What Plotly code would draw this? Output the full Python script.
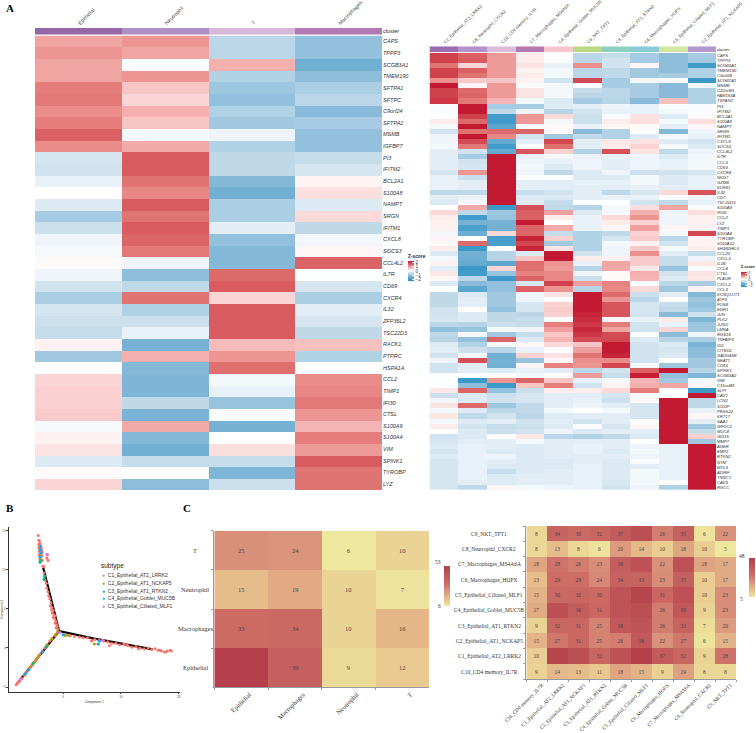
#!/usr/bin/env python
"""
Multi panel figure: z-score heatmaps, pseudotime trajectory and interaction count heatmaps
"""

import plotly.graph_objs as go

W = 756
H = 733

# panel A, left heatmap
left_cols = ["Epithelial", "Neutrophil", "T", "Macrophages"]
left_col_colors = ["#9568AA", "#AE90C4", "#D8B8D8", "#B27AB2"]
left_genes = ["CAPS", "TPPP3", "SCGB3A1", "TMEM190", "SFTPA1", "SFTPC", "C9orf24", "SFTPA2", "MSMB", "IGFBP7",
              "PI3", "IFITM2", "BCL2A1", "S100A8", "NAMPT", "SRGN", "IFITM1", "CXCL8", "SOCS3", "CCL4L2",
              "IL7R", "CD69", "CXCR4", "IL32", "ZFP36L2", "TSC22D3", "RACK1", "PTPRC", "HSPA1A",
              "CCL2", "TIMP1", "IFI30", "CTSL", "S100A9", "S100A4", "VIM", "SPINK1", "TYROBP", "LYZ"]
left_z = [
    [0.9, 1.05, -0.6, -1.0], [1.05, 0.9, -0.6, -1.0], [0.9, -0.02, 0.8, -1.35], [0.9, 1.05, -0.7, -1.05],
    [1.3, 0.6, -0.9, -0.75], [1.35, 0.45, -1.0, -0.6], [1.15, 0.8, -0.7, -1.1], [1.3, 0.6, -0.85, -0.8],
    [1.6, -0.08, -0.15, -1.0], [1.15, 0.85, -0.7, -1.0], [-0.35, 1.65, -0.55, -0.5], [-0.4, 1.65, -0.55, -0.35],
    [-0.2, 1.4, -1.15, 0.12], [0.0, 1.2, -1.35, 0.35], [-0.3, 1.65, -0.75, -0.3], [-0.8, 1.4, -0.75, 0.4],
    [-0.45, 1.65, -0.25, -0.55], [-0.15, 1.55, -1.0, -0.12], [-0.08, 1.35, -1.15, 0.1], [0.05, -0.15, -1.15, 1.55],
    [-0.15, -1.05, 1.5, -0.02], [-0.4, -0.55, 1.65, -0.35], [-0.75, 1.4, 0.45, -0.75], [-0.35, -0.7, 1.65, -0.25],
    [-0.45, -0.45, 1.65, -0.35], [-0.5, -0.2, 1.65, -0.55], [0.15, -1.3, 0.7, 0.65], [-0.85, 0.8, 1.05, -0.7],
    [0.0, -1.15, 1.45, 0.0], [0.45, -1.2, -0.1, 1.15], [0.5, -1.2, -0.2, 1.2], [0.5, -0.55, -0.95, 1.35],
    [0.55, -1.25, -0.05, 1.05], [-0.07, 0.85, -1.3, 0.75], [0.15, -1.15, 0.0, 1.3], [0.3, -1.35, 0.35, 1.0],
    [-0.3, -0.5, -0.5, 1.65], [0.05, -0.02, -1.2, 1.4], [0.45, -1.05, -0.45, 1.4],
]

# panel A, right heatmap
right_cols = ["C1_Epithelial_AT2_LRRK2", "C8_Neutrophil_CXCR2", "C10_CD4 memory_IL7R", "C7_Macrophages_MS4A6A",
              "C4_Epithelial_Goblet_MUC5B", "C9_NKT_TPT1", "C3_Epithelial_AT1_RTKN2", "C6_Macrophages_HOPX",
              "C5_Epithelial_Ciliated_MLF1", "C2_Epithelial_AT1_NCKAP5"]
right_col_colors = ["#9C6BAF", "#B491C8", "#DCBEDC", "#B57BB0", "#F7C6CC",
                    "#B9D883", "#8ED0C2", "#8ACDD6", "#D2E5A1", "#B498CB"]
right_genes = ["CAPS", "TPPP3", "SCGB3A1", "TMEM190", "C9orf24", "SCGB1A1", "MSMB", "C20orf85", "FAM183A", "TSPAN1",
               "PI3", "IFITM2", "BCL2A1", "S100A8", "NAMPT", "SRGN", "IFITM1", "CXCL8", "SOCS3", "CCL4L2",
               "IL7R", "CCL5", "CD69", "CXCR4", "NKG7", "GZMB", "KLRB1", "IL32", "CD7", "TSC22D3",
               "S100A9", "IFI30", "CCL2", "LYZ", "TIMP1", "S100A4", "TYROBP", "S100A12", "SH3BGRL3", "CCL20",
               "CXCL3", "IL1B", "CCL4", "CTSL", "PLAUR", "CXCL2", "CCL3", "KCNQ1OT1", "ATF3", "FOSB",
               "EGR1", "JUN", "PLK2", "JUND", "LMNA", "RGS16", "TNFAIP3", "ID2", "CITED2", "GADD45B",
               "NEAT1", "CD83", "SPINK1", "SCGB3A2", "VIM", "C15orf48", "SLPI", "CAV1", "LCN2", "S100P",
               "PRSS22", "KRT17", "SAA1", "WFDC2", "MUC4", "ISG15", "MMP7", "AGER", "EMP2", "RTKN2",
               "NTM", "MYL9", "ADIRF", "TNNC1", "CAV3", "RGCC"]
right_z = [
    [1.9, 1.6, 1.0, 0.2, 0.02, -0.6, -0.5, -0.8, -1.05, -0.8],
    [1.9, 1.65, 1.0, 0.2, -0.05, -0.6, -0.4, -0.8, -1.05, -0.85],
    [1.4, 0.45, 1.0, 0.3, -0.2, 1.1, -0.4, 0.1, -1.05, -1.9],
    [1.9, 1.6, 1.0, 0.15, -0.1, -0.6, -0.55, -0.85, -1.05, -0.7],
    [1.9, 1.4, 1.0, 0.2, -0.1, -0.6, -0.55, -0.85, -0.8, -0.7],
    [1.1, 0.55, 0.6, 0.15, -0.4, 1.85, -0.8, -0.1, -0.05, -1.95],
    [2.3, 0.1, 1.0, -0.05, -0.1, -0.05, -0.8, -0.8, -1.1, -0.1],
    [1.9, 1.5, 1.0, 0.3, -0.1, -0.5, -0.6, -0.8, -1.1, -0.7],
    [1.9, 1.55, 1.0, 0.3, -0.1, -0.6, -0.6, -0.8, -1.1, -0.7],
    [2.0, 1.35, 0.75, -0.1, -0.3, -0.8, -0.65, -1.1, 0.65, -0.7],
    [-0.05, 2.3, -0.8, -0.8, -0.3, -0.25, -0.15, -0.2, -0.05, -0.05],
    [-0.05, 2.3, -0.55, -0.15, -0.65, -0.4, -0.2, -0.2, -0.1, -0.05],
    [0.0, 1.9, -1.9, 1.05, 0.4, -0.45, -0.05, 0.3, -0.3, 0.05],
    [0.2, 1.5, -1.9, 1.0, -0.1, -0.45, 0.2, 0.35, -0.1, 0.35],
    [-0.1, 2.3, -1.6, -0.1, 0.05, -0.2, 0.1, 0.05, -0.25, 0.1],
    [-0.4, 1.4, 1.5, 1.55, 0.1, -1.1, -0.7, 0.02, -1.15, -0.15],
    [-0.15, 2.3, 1.2, -0.4, -0.85, -0.55, -0.7, -0.3, -0.1, -0.2],
    [-0.15, 1.8, -1.5, -0.25, 1.85, -0.25, 0.25, 0.3, -0.3, -0.4],
    [-0.1, 1.35, -1.9, -0.05, 1.45, -0.25, 0.2, 0.45, -0.1, -0.3],
    [-0.25, -0.4, -1.5, 1.7, 0.5, -0.7, 1.75, 0.3, -0.55, -0.15],
    [-0.25, -0.8, 2.3, -0.2, -0.1, -0.2, -0.2, -0.15, -0.3, -0.12],
    [-0.25, -0.4, 2.3, -0.15, -0.2, -0.15, -0.25, -0.15, -0.2, -0.1],
    [-0.25, -0.35, 2.3, -0.12, -0.3, -0.15, -0.25, -0.15, -0.2, -0.1],
    [-0.35, 1.05, 2.3, -0.15, -0.55, -0.3, -0.15, -0.45, -0.4, -0.35],
    [-0.2, -0.45, 2.3, -0.05, -0.02, -0.3, -0.3, -0.1, -0.3, -0.2],
    [-0.2, -0.25, 2.3, -0.25, -0.25, -0.2, -0.2, -0.1, -0.3, -0.2],
    [-0.2, -0.25, 2.3, -0.25, -0.25, -0.25, -0.25, -0.2, -0.25, -0.2],
    [-0.55, -0.55, 2.3, -0.5, -0.4, -0.25, -0.55, -0.35, 0.4, 1.7],
    [-0.25, -0.2, 2.3, -0.3, -0.3, -0.25, -0.2, -0.2, -0.05, -0.15],
    [-0.3, -0.05, 2.3, -0.25, -0.5, -0.02, -0.02, -0.4, -0.55, -0.2],
    [0.0, 0.85, -1.95, 1.75, -0.55, -0.65, -0.1, 0.35, 0.9, -0.05],
    [0.4, -0.55, -0.9, 1.6, 0.95, -0.3, -0.1, 0.8, -0.15, 0.35],
    [0.2, -1.9, -0.95, 1.6, 0.2, -0.2, 0.4, 1.05, -0.15, 0.15],
    [0.15, -1.3, -1.3, 2.3, 0.0, -0.2, 0.2, 0.5, -0.15, 0.15],
    [0.15, -1.8, -1.3, 1.55, 0.85, -0.2, 0.1, 0.95, 0.1, 0.15],
    [-0.1, -1.4, 0.4, 1.5, -0.5, -0.7, -0.55, 0.5, -0.1, 1.85],
    [0.1, 0.0, -1.85, 2.2, 0.5, -0.7, -0.35, 0.55, -0.6, 0.1],
    [0.05, 1.5, -1.8, 1.85, -0.85, -0.7, -0.1, 0.15, -0.4, 0.15],
    [0.2, -1.95, 0.0, 2.2, 0.3, -0.7, -0.15, 0.55, -0.1, 0.2],
    [-0.3, -1.35, -0.65, -0.3, 2.3, -0.4, -0.15, 1.1, -0.25, -0.5],
    [-0.1, -1.4, -0.65, 0.6, 2.3, 0.2, 0.15, 0.55, -0.5, -0.15],
    [0.15, -1.5, -1.6, 1.45, 1.05, -0.2, 0.9, 0.55, -0.5, 0.25],
    [-0.25, -1.95, 0.45, 1.45, 1.0, -0.65, 0.85, 0.25, -0.95, -0.05],
    [0.25, -1.9, -0.95, 1.25, 1.2, -0.15, 0.05, 0.8, -0.4, 0.3],
    [0.1, -0.6, -1.95, 1.55, 1.2, -0.45, 0.05, 0.75, -0.3, 0.25],
    [-0.3, -1.1, -1.0, -0.35, 1.9, 0.95, 1.25, 0.0, -0.6, -0.8],
    [0.0, -1.6, -1.0, 1.6, 1.05, -0.65, 1.2, 0.4, -0.85, 0.15],
    [-0.55, -0.3, -0.85, -0.15, 0.3, 2.3, 1.5, -0.45, -0.25, -1.15],
    [-0.55, -0.25, -0.85, -0.15, 0.0, 2.3, 1.05, -0.6, 0.0, -0.9],
    [-0.55, -0.25, -0.85, -0.35, 0.5, 2.3, 1.7, -0.35, -0.5, -1.0],
    [-0.4, 0.03, -1.0, -0.35, 0.55, 2.3, 1.7, -0.35, -0.55, -0.9],
    [-0.4, -0.3, -0.55, -0.6, 0.5, 2.2, 1.7, -0.4, -1.1, -0.4],
    [-0.35, -0.3, -0.55, -0.5, 0.0, 2.1, 0.1, -0.2, 0.2, -1.2],
    [-0.6, -0.65, -0.45, -0.5, 1.3, 2.0, 1.3, -0.4, -0.2, -0.9],
    [-1.0, -0.95, -0.1, -0.15, 0.95, 2.15, 0.9, -0.4, 0.45, -0.9],
    [-0.55, -0.1, -0.85, -0.5, 0.6, 2.0, 1.8, -0.02, -1.05, -0.15],
    [-0.65, -1.0, 1.55, -0.3, 0.75, 1.8, 1.85, -0.3, -0.65, -0.75],
    [-0.3, -0.7, -0.1, 0.1, 0.4, 0.6, 2.3, -0.4, -0.3, -1.25],
    [-0.25, -0.45, -0.6, -0.2, 0.0, 0.95, 2.3, -0.4, -0.35, -1.05],
    [-0.4, -0.1, -1.35, 0.5, 0.3, 1.4, 2.2, -0.4, -0.3, -1.05],
    [-0.15, 1.75, -1.3, -0.95, 0.1, 1.1, 1.15, -0.4, -0.02, -0.85],
    [-0.4, -0.25, -1.35, 0.1, 1.25, 1.05, 1.85, -0.1, -0.9, -0.85],
    [-0.4, -0.25, -0.3, -0.2, -0.25, -0.6, -0.4, 1.6, 2.3, -0.65],
    [-0.02, -0.03, -0.03, -0.1, 0.0, 1.0, -0.5, 2.25, -1.0, -1.2],
    [-0.02, -1.95, 1.05, 1.55, 0.6, -0.2, -0.1, 0.75, -0.85, -0.1],
    [0.0, -1.05, -1.95, 0.6, 1.3, -0.4, 0.15, 0.8, 0.9, 0.08],
    [0.25, 1.55, -1.0, -0.45, 0.2, 0.2, 0.4, 1.3, 0.0, -1.95],
    [-0.45, -0.3, -0.45, -0.35, -0.25, -0.25, -0.35, -0.02, -0.02, 2.3],
    [-0.12, -0.3, -0.4, -0.35, -0.25, -0.2, -0.45, 0.05, 2.3, -0.55],
    [0.3, 1.5, -0.9, -0.55, -0.25, -0.15, -0.25, -0.35, 2.3, -0.55],
    [-0.1, -0.3, -0.6, -0.55, -0.1, 0.0, -0.1, -0.35, 2.3, -0.2],
    [0.25, -0.55, -0.4, -0.6, -0.3, -0.25, -0.25, -0.35, 2.3, 0.1],
    [-0.1, -0.3, -0.25, -0.4, -0.25, -0.4, -0.25, -0.05, 2.3, -0.25],
    [0.2, -0.4, -0.5, -0.45, -0.3, -0.05, -0.35, 0.1, 2.3, -0.85],
    [0.0, -0.3, -0.45, -0.4, -0.15, -0.3, -0.25, -0.25, 2.3, -0.5],
    [-0.4, -0.3, 0.0, 0.25, -0.6, -0.7, -0.55, -0.3, 2.3, 0.5],
    [-0.35, -0.25, -0.25, -0.1, -0.25, -0.25, -0.25, 0.0, 2.3, -0.85],
    [-0.3, -0.2, -0.25, -0.3, -0.25, -0.2, -0.25, -0.15, -0.2, 2.3],
    [-0.35, -0.2, -0.3, -0.3, -0.25, -0.2, -0.3, -0.1, -0.2, 2.3],
    [-0.3, -0.2, -0.15, -0.3, -0.25, -0.25, -0.25, -0.15, -0.2, 2.3],
    [-0.35, -0.2, -0.25, -0.3, -0.3, -0.25, -0.3, -0.05, -0.2, 2.3],
    [-0.35, -0.2, -0.3, -0.3, -0.3, -0.2, -0.3, -0.25, -0.2, 2.3],
    [-0.35, -0.2, -0.5, -0.3, -0.25, -0.2, -0.3, -0.1, -0.2, 2.3],
    [-0.35, -0.2, -0.3, -0.25, -0.25, -0.2, -0.3, -0.1, -0.2, 2.3],
    [-0.35, -0.25, -0.3, -0.25, -0.25, -0.2, -0.35, -0.1, -0.05, 2.3],
    [-0.35, -0.55, 0.1, -0.1, -0.15, -0.2, -0.4, -0.15, -0.7, 2.3],
]

# panel B, trajectory branches and cells per subtype
branch_x = [-3.44, -0.69, 5.17, 15.5, None, -0.69, -3.44, -5.7, -8.04]
branch_y = [10.3, 2.18, 1.24, -0.17, None, 2.18, -0.38, -2.5, -4.66]
subtypes = ["C1_Epithelial_AT2_LRRK2", "C2_Epithelial_AT1_NCKAP5", "C3_Epithelial_AT1_RTKN2",
            "C4_Epithelial_Goblet_MUC5B", "C5_Epithelial_Ciliated_MLF1"]
subtype_colors = ["#F8766D", "#A3A500", "#00BF7D", "#00B0F6", "#E76BF3"]
c1_x = [-4.3, -4.2, -4.1, -4.0, -4.2, -3.9, -4.1, -3.8, -4.2, -4.0, -3.7, -4.1, -3.9, -3.6, -4.0, -3.8, -4.1, -3.7,
        -3.9, -4.0, -3.8, -3.6, -3.9, -2.7, -2.8, -2.6, -3.5, -3.3, -3.3, -3.2, -3.1, -2.9, -2.8, -2.6, -2.5, -2.3,
        -2.1, -2.2, -1.9, -2.0, -1.7, -1.9, -1.6, -1.4, -1.7, -1.4, -1.2, -1.4, -1.1, -1.0, -1.2, -0.9, -1.0, -1.4,
        -1.9, -2.3, -2.8, -3.2, -3.6, -4.0, -4.3, -4.7, -5.0, -5.3, -5.7, -6.0, -6.3, -6.7, -7.1, -7.5, -7.9, -8.1,
        -7.7, -5.5, -4.5, -5.9, -4.8, 0.5, 1.2, 2.0, 2.8, 3.5, 4.2, 4.9, 5.5, 6.2, 7.0, 7.7, 8.4, 9.1, 9.8, 10.5,
        11.2, 11.9, 12.6, 13.3, 14.0, 14.7, 15.3, 15.9, 16.4, 17.0, 17.5, 18.0, 18.5, 18.7, 17.8, 16.7, 13.0, 6.0,
        5.0, 8.0, 11.0]
c1_y = [14.4, 13.8, 13.7, 13.4, 13.3, 13.1, 13.0, 12.9, 12.8, 12.7, 12.6, 12.4, 12.3, 12.3, 12.1, 12.0, 11.9, 11.8,
        11.6, 11.4, 11.3, 11.2, 11.1, 11.9, 11.5, 11.2, 10.5, 10.4, 9.6, 9.2, 8.7, 8.3, 7.7, 7.2, 6.7, 6.3,
        5.8, 5.4, 5.2, 4.9, 4.8, 4.5, 4.3, 4.1, 3.9, 3.7, 3.4, 3.2, 3.0, 2.8, 2.6, 2.4, 2.0, 1.6,
        1.2, 0.9, 0.4, 0.0, -0.4, -0.8, -1.1, -1.5, -1.8, -2.1, -2.5, -2.8, -3.1, -3.5, -3.9, -4.2, -4.5, -4.7,
        -4.4, -2.3, -1.3, -2.6, -1.7, 1.7, 1.6, 1.5, 1.4, 1.3, 1.3, 0.9, 1.1, 1.0, 0.9, 0.8, 0.6, 0.6, 0.4, 0.5,
        0.3, 0.1, 0.2, 0.0, -0.1, 0.0, -0.2, -0.1, -0.3, -0.4, -0.5, -0.4, -0.3, -0.4, -0.5, -0.3, -0.1, 0.5,
        1.0, 0.3, 0.5]
c2_x = [0.3, 0.9, -0.9, -2.7, -4.2, -4.6, -5.1, -5.6, -6.7, -2.0, -1.3, 5.4]
c2_y = [1.6, 1.6, 2.1, 0.4, -1.0, -1.4, -1.9, -2.4, -3.4, 1.1, 1.7, 0.5]
c3_x = [-4.0, -3.9, -3.2, -3.3, -5.2, -2.9]
c3_y = [11.0, 11.2, 9.2, 8.8, -2.0, 0.2]
c4_x = [-3.9, -4.0, -3.8, -4.0, 0.0, 6.1, -5.9, -3.6, -6.5, 6.3]
c4_y = [13.0, 12.6, 12.2, 11.7, 1.7, 0.5, -2.8, -0.5, -3.3, 0.9]
c5_x = [-2.8, -7.4, 6.8, -0.5]
c5_y = [12.0, -4.0, 1.0, 2.0]

# panel C, interaction counts
count_cols = ["Epithelial", "Macrophages", "Neutrophil", "T"]
count_rows = ["Epithelial", "Macrophages", "Neutrophil", "T"]
count_z = [
    [53, 39, 9, 12],
    [33, 34, 10, 16],
    [15, 19, 10, 7],
    [25, 24, 6, 10],
]
cluster_cols = ["C10_CD4 memory_IL7R", "C1_Epithelial_AT2_LRRK2", "C2_Epithelial_AT1_NCKAP5",
                "C3_Epithelial_AT1_RTKN2", "C4_Epithelial_Goblet_MUC5B", "C5_Epithelial_Ciliated_MLF1",
                "C6_Macrophages_HOPX", "C7_Macrophages_MS4A6A", "C8_Neutrophil_CXCR2", "C9_NKT_TPT1"]
cluster_z = [
    [9, 14, 13, 11, 18, 15, 9, 19, 8, 8],
    [10, 46, 42, 32, 41, 48, 37, 32, 9, 28],
    [15, 27, 31, 25, 26, 38, 22, 27, 6, 15],
    [9, 32, 31, 25, 38, 40, 26, 33, 7, 20],
    [17, 42, 36, 31, 40, 42, 26, 38, 9, 23],
    [15, 30, 32, 30, 40, 46, 31, 41, 10, 23],
    [13, 29, 29, 24, 34, 33, 23, 35, 10, 17],
    [18, 28, 26, 23, 36, 41, 22, 41, 18, 17],
    [8, 13, 8, 6, 20, 14, 10, 18, 10, 5],
    [8, 34, 30, 32, 37, 42, 26, 35, 6, 22],
]

SANS = "Liberation Sans"
SERIF = "Liberation Serif"
ZSCORE_SCALE = [[0.0, "#1A8CC0"], [0.245, "#7FB5D6"], [0.394, "#C5DCEB"], [0.5, "#FFFFFF"], [0.606, "#FAD0D0"],
                [0.713, "#EE9A98"], [0.819, "#DD6A6A"], [1.0, "#C2142F"]]
COUNT_SCALE = [[0.0, "#EEE89E"], [0.19, "#E6BC8A"], [0.40, "#D9917A"], [0.57, "#CC6A64"], [0.70, "#C4605F"],
               [1.0, "#B5404B"]]


def dom_x(left, right):
    """pixel span to paper domain"""
    return [left / W, right / W]


def dom_y(top, bottom):
    """pixel span to paper domain"""
    return [1 - bottom / H, 1 - top / H]


def discrete_scale(colors):
    """one colour for each integer of a categorical heatmap"""
    return [[i / (len(colors) - 1), col] for i, col in enumerate(colors)]


def zscore_bar(left, top, length, size):
    """small z-score colour key"""
    return dict(x=left / W, xanchor="left", y=1 - top / H, yanchor="top", thickness=6, len=length,
                lenmode="pixels", xpad=0, ypad=0, outlinewidth=0, tickvals=[-2, -1, 0, 1, 2], ticks="inside",
                ticklen=2, tickcolor="#ffffff", tickwidth=0.5, tickfont=dict(size=size, color="#333333", family=SANS),
                title=dict(text="<b>Z-score</b>", side="top", font=dict(size=size, color="#222222", family=SANS)))


def count_bar(left, top, length):
    """colour key of the count heatmaps, labels are added as annotations"""
    return dict(x=left / W, xanchor="left", y=1 - top / H, yanchor="top", thickness=6, len=length,
                lenmode="pixels", xpad=0, ypad=0, outlinewidth=0, showticklabels=False, ticks="")


def heat_text(matrix):
    """the darkest cells carry no number in the reference"""
    return [[str(val) if val < 40 else "" for val in row] for row in matrix]


fig = go.Figure()

# panel A left
fig.add_trace(go.Heatmap(z=left_z, x=left_cols, y=left_genes, xaxis="x", yaxis="y", zmin=-2.35, zmax=2.35,
                         colorscale=ZSCORE_SCALE, colorbar=zscore_bar(408, 251, 30, 4.8)))
fig.add_trace(go.Heatmap(z=[list(range(4))], x=left_cols, y=["cluster"], xaxis="x2", yaxis="y2", zmin=0, zmax=3,
                         colorscale=discrete_scale(left_col_colors), showscale=False))
# panel A right
fig.add_trace(go.Heatmap(z=right_z, x=right_cols, y=right_genes, xaxis="x3", yaxis="y3", zmin=-2.35, zmax=2.35,
                         colorscale=ZSCORE_SCALE, colorbar=zscore_bar(740.7, 262, 25, 3.9)))
fig.add_trace(go.Heatmap(z=[list(range(10))], x=right_cols, y=["cluster"], xaxis="x4", yaxis="y4", zmin=0, zmax=9,
                         colorscale=discrete_scale(right_col_colors), showscale=False))
# panel B
fig.add_trace(go.Scatter(x=branch_x, y=branch_y, mode="lines", xaxis="x5", yaxis="y5", showlegend=False,
                         line=dict(color="#000000", width=2.2)))
points = [(c1_x, c1_y), (c2_x, c2_y), (c3_x, c3_y), (c4_x, c4_y), (c5_x, c5_y)]
for name, col, (pts_x, pts_y) in zip(subtypes, subtype_colors, points):
    fig.add_trace(go.Scatter(x=pts_x, y=pts_y, mode="markers", name=name, xaxis="x5", yaxis="y5", showlegend=False,
                             marker=dict(color=col, size=3, line=dict(width=0))))
# panel C
fig.add_trace(go.Heatmap(z=count_z, x=count_cols, y=count_rows, xaxis="x6", yaxis="y6", zmin=6, zmax=53,
                         colorscale=COUNT_SCALE, colorbar=count_bar(444, 566, 40), text=heat_text(count_z),
                         texttemplate="%{text}", textfont=dict(size=6.5, color="#444444", family=SERIF)))
fig.add_trace(go.Heatmap(z=cluster_z, x=cluster_cols, y=cluster_cols, xaxis="x7", yaxis="y7", zmin=5, zmax=48,
                         colorscale=COUNT_SCALE, colorbar=count_bar(749, 558, 39), text=heat_text(cluster_z),
                         texttemplate="%{text}", textfont=dict(size=5.5, color="#444444", family=SERIF)))

fig.update_layout(
    width=W, height=H, margin=dict(l=0, r=0, t=0, b=0, autoexpand=False), paper_bgcolor="#ffffff",
    plot_bgcolor="#ffffff", showlegend=False, font=dict(family=SANS, color="#333333"),
    # A left heatmap and its top bar
    xaxis=dict(domain=dom_x(35, 382), anchor="y", showticklabels=False, ticks=""),
    yaxis=dict(domain=dom_y(35.5, 490), anchor="x", side="right", autorange="reversed", ticks="", tickmode="array",
               tickvals=left_genes, ticktext=left_genes,
               tickfont=dict(size=5.5, color="#333333", family=SANS, style="italic")),
    xaxis2=dict(domain=dom_x(35, 382), anchor="y2", side="top", tickangle=-45, ticks="",
                tickfont=dict(size=5.2, color="#444444", family=SANS)),
    yaxis2=dict(domain=dom_y(28, 34.5), anchor="x2", side="right", ticks="",
                tickfont=dict(size=5.5, color="#222222", family=SANS, style="italic")),
    # A right heatmap and its top bar
    xaxis3=dict(domain=dom_x(429.5, 716), anchor="y3", showticklabels=False, ticks=""),
    yaxis3=dict(domain=dom_y(52.7, 490), anchor="x3", side="right", autorange="reversed", ticks="", tickmode="array",
                tickvals=right_genes, ticktext=right_genes,
                tickfont=dict(size=4.2, color="#333333", family=SANS, style="italic")),
    xaxis4=dict(domain=dom_x(429.5, 716), anchor="y4", side="top", tickangle=-45, ticks="",
                tickfont=dict(size=4.4, color="#444444", family=SANS)),
    yaxis4=dict(domain=dom_y(46.3, 52), anchor="x4", side="right", ticks="",
                tickfont=dict(size=4.2, color="#222222", family=SANS, style="italic")),
    # B trajectory
    xaxis5=dict(domain=dom_x(8.7, 180), anchor="y5", range=[-9.4, 20.2], tickvals=[0, 10, 20], ticks="outside",
                ticklen=1.5, showline=True, linecolor="#333333", linewidth=1, showgrid=False, zeroline=False,
                tickfont=dict(size=3, color="#444444"),
                title=dict(text="Component 1", font=dict(size=3.2, color="#333333"), standoff=2)),
    yaxis5=dict(domain=dom_y(527, 691.7), anchor="x5", range=[-5.6, 15.5], tickvals=[-5, 0, 5, 10, 15],
                ticks="outside", ticklen=1.5, showline=True, linecolor="#333333", linewidth=1, showgrid=False,
                zeroline=False, tickfont=dict(size=3, color="#444444"),
                title=dict(text="Component 2", font=dict(size=3.2, color="#333333"), standoff=1)),
    # C small heatmap
    xaxis6=dict(domain=dom_x(214.3, 429.3), anchor="y6", tickson="boundaries", ticks="outside", ticklen=2,
                tickangle=-45, showline=True, linecolor="#999999", tickcolor="#999999", ticklabelshift=8,
                tickfont=dict(size=6.5, color="#333333", family=SERIF)),
    yaxis6=dict(domain=dom_y(530.7, 687.3), anchor="x6", tickson="boundaries", ticks="outside", ticklen=2,
                showticklabels=False, showline=True, linecolor="#999999", tickcolor="#999999"),
    # C large heatmap
    xaxis7=dict(domain=dom_x(526.3, 736), anchor="y7", tickson="boundaries", ticks="outside", ticklen=2,
                tickangle=-45, showline=True, linecolor="#999999", tickcolor="#999999", ticklabelshift=5,
                tickfont=dict(size=5.1, color="#333333", family=SERIF)),
    yaxis7=dict(domain=dom_y(526, 679.3), anchor="x7", tickson="boundaries", ticks="outside", ticklen=2,
                showticklabels=False, showline=True, linecolor="#999999", tickcolor="#999999"),
)

notes = []
for letter, px, py in [("A", 10, 8), ("B", 9.5, 508), ("C", 187, 508)]:
    notes.append(dict(text="<b>%s</b>" % letter, xref="paper", yref="paper", x=px / W, y=1 - py / H, showarrow=False,
                      xanchor="center", yanchor="middle", font=dict(size=11, color="#000000", family=SERIF)))
# row labels of panel C are centred in the reference, tick labels cannot do that
for row in count_rows:
    notes.append(dict(text=row, xref="paper", yref="y6", x=195 / W, y=row, showarrow=False, xanchor="center",
                      font=dict(size=6.5, color="#333333", family=SERIF)))
for row in cluster_cols:
    notes.append(dict(text=row, xref="paper", yref="y7", x=489 / W, y=row, showarrow=False, xanchor="center",
                      font=dict(size=5.5, color="#333333", family=SERIF)))
for label, px, py in [("53", 438, 562), ("6", 439, 606), ("48", 741.7, 556), ("5", 741, 599)]:
    notes.append(dict(text=label, xref="paper", yref="paper", x=px / W, y=1 - py / H, showarrow=False,
                      xanchor="center", yanchor="middle", font=dict(size=5.5, color="#333333", family=SERIF)))
# legend of panel B, the plotly legend has a minimum row height far above this one
notes.append(dict(text="subtype", xref="paper", yref="paper", x=99 / W, y=1 - 566 / H, showarrow=False,
                  xanchor="left", yanchor="middle", font=dict(size=6.5, color="#222222")))
for idx, (name, col) in enumerate(zip(subtypes, subtype_colors)):
    notes.append(dict(text="<span style='color:%s'>●</span>  %s" % (col, name), xref="paper", yref="paper",
                      x=100 / W, y=1 - (575.3 + idx * 7.7) / H, showarrow=False, xanchor="left", yanchor="middle",
                      font=dict(size=5, color="#333333")))
fig.update_layout(annotations=notes)

# the browser default body margin would push the fixed size plot out of the window
fig.write_html("out.html", config={"displayModeBar": False}, post_script="document.body.style.margin='0';")
